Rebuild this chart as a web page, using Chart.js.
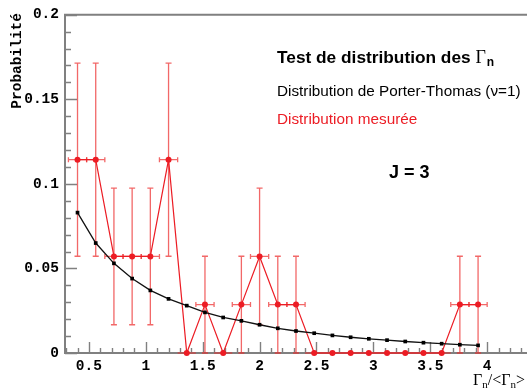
<!DOCTYPE html>
<html>
<head>
<meta charset="utf-8">
<script src="https://cdn.jsdelivr.net/npm/chart.js@4.4.0/dist/chart.umd.min.js"></script>
<style>
  html, body { margin: 0; padding: 0; background: #fff; }
  #wrap { width: 531px; height: 391px; }
</style>
</head>
<body>
<div id="wrap"><canvas id="c" width="531" height="391"></canvas></div>
<script>
// Bin centres of Γn/<Γn> and half bin width
const binCenters = [0.40, 0.56, 0.72, 0.88, 1.04, 1.20, 1.36, 1.52, 1.68, 1.84, 2.00, 2.16,
                    2.32, 2.48, 2.64, 2.80, 2.96, 3.12, 3.28, 3.44, 3.60, 3.76, 3.92];
const binHalfWidth = 0.08;

// Porter-Thomas expectation (nu = 1) per bin
const porterThomas = [0.083, 0.065, 0.053, 0.044, 0.037, 0.032, 0.028, 0.024, 0.021, 0.019, 0.0167, 0.0146,
                      0.0130, 0.0117, 0.0104, 0.0093, 0.0084, 0.0076, 0.0068, 0.0061, 0.0055, 0.0049, 0.0045];

// Measured distribution and its statistical errors
const measured = [0.1143, 0.1143, 0.0571, 0.0571, 0.0571, 0.1143, 0, 0.0286, 0, 0.0286, 0.0571, 0.0286,
                  0.0286, 0, 0, 0, 0, 0, 0, 0, 0, 0.0286, 0.0286];
const measuredErr = [0.0571, 0.0571, 0.0404, 0.0404, 0.0404, 0.0571, 0, 0.0286, 0, 0.0286, 0.0404, 0.0286,
                     0.0286, 0, 0, 0, 0, 0, 0, 0, 0, 0.0286, 0.0286];

const xTicks = [0.5, 1, 1.5, 2, 2.5, 3, 3.5, 4];
const yTicks = [0, 0.05, 0.1, 0.15, 0.2];

const RED = 'rgb(236, 28, 36)';
const MONO = '"Liberation Mono", "DejaVu Sans Mono", monospace';
const SANS = '"Liberation Sans", Arial, sans-serif';
const SERIF = '"Liberation Serif", "Times New Roman", serif';

const fmt = v => String(+v.toFixed(3));

// Axis frame with inward ticks
const frame = {
  id: 'frame',
  beforeDatasetsDraw(chart) {
    const { ctx, chartArea: a, scales: { x, y } } = chart;
    ctx.save();
    ctx.strokeStyle = '#808080';
    ctx.lineWidth = 2;
    ctx.beginPath();
    ctx.moveTo(a.right, a.top); ctx.lineTo(a.left, a.top);
    ctx.lineTo(a.left, a.bottom); ctx.lineTo(a.right, a.bottom);
    ctx.stroke();
    ctx.lineWidth = 1.4;
    ctx.beginPath();
    for (let k = Math.ceil(x.min * 10); k <= Math.floor(x.max * 10); k++) {
      const px = Math.round(x.getPixelForValue(k / 10)) + 0.5;
      const len = k % 5 === 0 ? 11 : 5;
      ctx.moveTo(px, a.bottom); ctx.lineTo(px, a.bottom - len);
    }
    for (let k = Math.ceil(y.min * 100); k <= Math.floor(y.max * 100 + 1e-6); k++) {
      const py = Math.round(y.getPixelForValue(k / 100)) + 0.5;
      const len = k % 5 === 0 ? 12 : 6;
      ctx.moveTo(a.left, py); ctx.lineTo(a.left + len, py);
    }
    ctx.stroke();
    ctx.restore();
  }
};

// Horizontal (bin width) and vertical (statistical) error bars of the measured data
const errorBars = {
  id: 'errorBars',
  beforeDatasetsDraw(chart) {
    const { ctx, scales: { x, y } } = chart;
    ctx.save();
    ctx.strokeStyle = 'rgba(236, 40, 40, 0.7)';
    ctx.lineWidth = 1.3;
    binCenters.forEach((c, i) => {
      const px = x.getPixelForValue(c);
      const py = y.getPixelForValue(measured[i]);
      const xl = x.getPixelForValue(c - binHalfWidth);
      const xr = x.getPixelForValue(c + binHalfWidth);
      ctx.beginPath();
      ctx.moveTo(xl, py); ctx.lineTo(xr, py);
      if (measuredErr[i] > 0) {
        const yt = y.getPixelForValue(measured[i] + measuredErr[i]);
        const yb = y.getPixelForValue(measured[i] - measuredErr[i]);
        ctx.moveTo(xl, py - 2.5); ctx.lineTo(xl, py + 2.5);
        ctx.moveTo(xr, py - 2.5); ctx.lineTo(xr, py + 2.5);
        ctx.moveTo(px, yt); ctx.lineTo(px, yb);
        ctx.moveTo(px - 3, yt); ctx.lineTo(px + 3, yt);
        ctx.moveTo(px - 3, yb); ctx.lineTo(px + 3, yb);
      }
      ctx.stroke();
    });
    ctx.restore();
  }
};

// Titles, legend texts and axis titles
const texts = {
  id: 'texts',
  afterDraw(chart) {
    const { ctx } = chart;
    ctx.save();
    ctx.textBaseline = 'alphabetic';
    ctx.textAlign = 'left';

    // heading with Γ_n
    let xx = 277;
    ctx.fillStyle = '#000';
    ctx.font = 'bold 17.3px ' + SANS;
    const head = 'Test de distribution des ';
    ctx.fillText(head, xx, 63);
    xx += ctx.measureText(head).width;
    ctx.font = '18px ' + SERIF;
    ctx.fillText('Γ', xx, 63);
    xx += ctx.measureText('Γ').width + 1;
    ctx.font = 'bold 12px ' + SANS;
    ctx.fillText('n', xx, 66);

    ctx.font = '15.3px ' + SANS;
    ctx.fillText('Distribution de Porter-Thomas (ν=1)', 277, 96);

    ctx.fillStyle = RED;
    ctx.fillText('Distribution mesurée', 277, 124);

    ctx.fillStyle = '#000';
    ctx.font = 'bold 18px ' + SANS;
    ctx.fillText('J = 3', 389, 178);

    // x axis title Γn/<Γn>
    xx = 473;
    const parts = [['Γ', '16px ' + SERIF, 0], ['n', '11px ' + SERIF, 3], ['/<', '16px ' + SERIF, 0],
                   ['Γ', '16px ' + SERIF, 0], ['n', '11px ' + SERIF, 3], ['>', '16px ' + SERIF, 0]];
    parts.forEach(([t, f, dy]) => {
      ctx.font = f;
      ctx.fillText(t, xx, 385 + dy);
      xx += ctx.measureText(t).width;
    });

    // y axis title
    ctx.translate(20.5, 13);
    ctx.rotate(-Math.PI / 2);
    ctx.textAlign = 'right';
    ctx.font = 'bold 14.5px ' + MONO;
    ctx.fillText('Probabilité', 0, 0);
    ctx.restore();
  }
};

new Chart(document.getElementById('c'), {
  type: 'line',
  data: {
    datasets: [
      {
        label: 'Distribution de Porter-Thomas (ν=1)',
        data: binCenters.map((c, i) => ({ x: c, y: porterThomas[i] })),
        borderColor: '#111',
        backgroundColor: '#000',
        borderWidth: 1.3,
        pointStyle: 'rect',
        pointRadius: 2.6,
        pointBorderWidth: 0,
        tension: 0,
        clip: false
      },
      {
        label: 'Distribution mesurée',
        data: binCenters.map((c, i) => ({ x: c, y: measured[i] })),
        borderColor: RED,
        backgroundColor: RED,
        borderWidth: 1.2,
        pointStyle: 'circle',
        pointRadius: 3,
        pointBorderWidth: 0,
        tension: 0,
        clip: false
      }
    ]
  },
  options: {
    responsive: false,
    animation: false,
    devicePixelRatio: 1,
    layout: { padding: { top: 14, right: 0, left: 0, bottom: 0 } },
    plugins: { legend: { display: false }, tooltip: { enabled: false } },
    scales: {
      x: {
        type: 'linear',
        min: 0.29,
        max: 4.35,
        border: { display: false },
        grid: { display: false, drawTicks: false },
        afterBuildTicks: s => { s.ticks = xTicks.map(v => ({ value: v })); },
        afterFit: s => { s.height = 38; },
        ticks: {
          padding: 5,
          color: '#000',
          maxRotation: 0,
          autoSkip: false,
          font: { family: MONO, weight: 'bold', size: 14.5 },
          callback: v => fmt(v)
        }
      },
      y: {
        min: 0,
        max: 0.2,
        border: { display: false },
        grid: { display: false, drawTicks: false },
        afterBuildTicks: s => { s.ticks = yTicks.map(v => ({ value: v })); },
        afterFit: s => { s.width = 65; },
        ticks: {
          padding: 6,
          color: '#000',
          autoSkip: false,
          font: { family: MONO, weight: 'bold', size: 14.5 },
          callback: v => fmt(v)
        }
      }
    }
  },
  plugins: [frame, errorBars, texts]
});
</script>
</body>
</html>
